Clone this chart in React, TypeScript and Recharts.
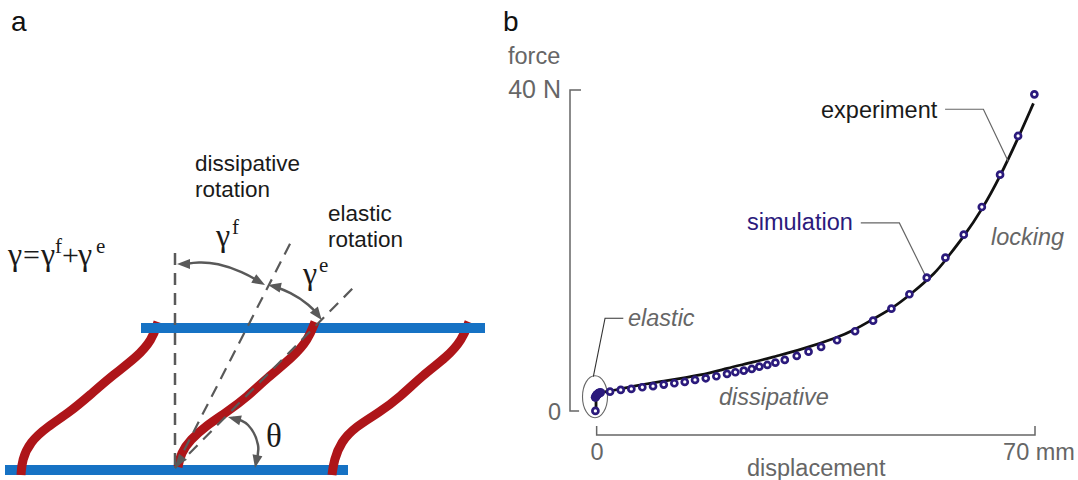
import React from "react";
import { ComposedChart, Line, XAxis, YAxis } from "recharts";

type P = [number, number];
const pts = (a: P[]) => a.map(([x, y]) => ({ x, y }));

// ---------- panel b: force (N) against displacement (mm) ----------
const elasticRise: P[] = [[0,0],[0,1.87],[0.64,2.31]];
const experiment: P[] = [[0.64,2.31],[2.23,2.43],[4.9,2.95],[10.21,3.65],[17.11,4.49],[20.85,5.32],[25.09,6.07],[28.82,6.85],[32.54,7.6],[38.39,9.1],[41.31,10.13],[44.18,11.46],[47.1,12.71],[49.97,14.39],[54.34,17.36],[55.71,18.82],[58.64,21.72],[61.52,25.05],[64.43,29.2],[67.3,33.98],[69.75,38.34]];
const simulationOpen: P[] = [[-0.1,0],[2.23,2.4],[3.94,2.62],[5.63,2.74],[7.38,2.95],[9.09,3.08],[10.8,3.28],[12.49,3.45],[14.15,3.61],[15.79,3.86],[17.5,4.07],[19.19,4.32],[20.89,4.61],[22.22,4.82],[23.56,5.02],[24.83,5.23],[26.04,5.52],[27.32,5.73],[28.6,6.02],[30.1,6.36],[32.01,6.85],[33.89,7.39],[35.89,7.98],[38.44,8.81],[41.31,9.93],[44.18,11.25],[47.1,12.75],[49.97,14.54],[52.74,16.61],[55.71,19.1],[58.64,21.97],[61.52,25.42],[64.43,29.45],[67.3,34.27],[69.9,39.46]];
const simulationElastic: P[] = [[-0.1,1.7],[0,1.85],[0.1,1.95],[0.2,2.05],[0.35,2.15],[0.5,2.22],[0.7,2.3]];
const leaderElastic: P[] = [[4.35,11.55],[1.44,11.55],[-0.43,4.27]];
const leaderExperiment: P[] = [[55.66,37.6],[61.77,37.6],[65.76,31.07]];
const leaderSimulation: P[] = [[42.22,23.43],[48.37,23.43],[52.47,16.95]];
const xBracket: P[] = [[0.1,-1.87],[0.1,-3],[70,-3],[70,-1.87]];
const yBracket: P[] = [[-2.39,40],[-4.15,40],[-4.15,0],[-2.7,0]];
const xTicks = [0, 70];
const yTicks = [0, 40];
const xTickLabels = ["0", "70 mm"];
const yTickLabels = ["0", "40 N"];

// ---------- panel a: schematic, in page-like drawing units ----------
const barTop: P[] = [[141,328],[485,328]];
const barBottom: P[] = [[5,470],[348,470]];
const fibreLeft: P[] = [[21,475],[22,460],[30,442],[47,427],[70,412],[90,395],[113,375],[137,357],[152,340],[158,322]];
const fibreMid: P[] = [[178,467],[181,453],[190,440],[207,425],[227,412],[247,397],[267,378],[293,357],[308,340],[315,322]];
const fibreRight: P[] = [[332,475],[334,460],[341,442],[355,427],[380,412],[400,397],[423,375],[447,357],[462,340],[469,322]];
const dashVertical: P[] = [[175,253],[175,468]];
const dashDissipative: P[] = [[175,468],[293,238]];
const dashElastic: P[] = [[175,468],[355,286]];
const arcF: P[] = [[185,264],[198,262],[217,263],[243,272],[260,282]];
const arcE: P[] = [[273,286],[290,292],[310,305],[319,316]];
const arcTheta: P[] = [[233,418],[248,425],[258,445],[256,462]];
// arrow tip x, tip y, pointing direction in degrees
const heads: { x: number; y: number; deg: number }[] = [
  { x: 177, y: 264, deg: 180 },
  { x: 265, y: 285, deg: 30 },
  { x: 268, y: 285, deg: 192 },
  { x: 321.7, y: 320, deg: 53 },
  { x: 228, y: 417, deg: 195 },
  { x: 255, y: 468, deg: 101 },
  { x: 175, y: 467, deg: 128 },
];

const SANS = "'Liberation Sans', Arial, sans-serif";
const SERIF = "'Liberation Serif', 'Times New Roman', serif";
const GREY = "#666666";
const DARK = "#595959";
const NAVY = "#2b1a7c";
const BLUE = "#1672c4";
const RED = "#ae1519";

const T = ({ x, y, c = "#1a1a1a", s = 22.5, i = false, f = SANS, a = "start", children }: any) => (
  <text x={x} y={y} fill={c} fontSize={s} fontFamily={f} fontStyle={i ? "italic" : "normal"} textAnchor={a}>{children}</text>
);

const XTick = ({ x, payload }: any) => {
  const k = xTicks.indexOf(payload.value);
  return <text x={x + (k === 1 ? 4 : 1)} y={460} fill={GREY} fontSize={23.5} fontFamily={SANS} textAnchor="middle">{xTickLabels[k]}</text>;
};
const YTick = ({ x, y, payload }: any) => {
  const k = yTicks.indexOf(payload.value);
  return <text x={x - 1} y={y + (k === 1 ? 8 : 9)} fill={GREY} fontSize={k === 1 ? 25 : 23.5} fontFamily={SANS} textAnchor="end">{yTickLabels[k]}</text>;
};

const thin = (key: string, d: P[], color: string, w: number, extra: any = {}) => (
  <Line key={key} data={pts(d)} dataKey="y" type="linear" stroke={color} strokeWidth={w} dot={false} activeDot={false} isAnimationActive={false} legendType="none" {...extra} />
);
const smooth = (key: string, d: P[], color: string, w: number) => thin(key, d, color, w, { type: "basis" });

const OpenDot = (p: any) => <circle key={p.index} cx={p.cx} cy={p.cy} r={3} fill="#fff" stroke={NAVY} strokeWidth={2.7} />;
const SolidDot = (p: any) => <circle key={p.index} cx={p.cx} cy={p.cy} r={4.6} fill={NAVY} stroke="none" />;
const ArrowDot = (p: any) => (
  <polygon key={p.index} points="0,0 -13,-5 -13,5" fill={DARK} transform={`translate(${p.cx} ${p.cy}) rotate(${p.payload.deg})`} />
);

function PanelA() {
  return (
    <ComposedChart width={490} height={480} margin={{ top: 0, right: 0, bottom: 0, left: 0 }} data={[]}>
      <XAxis type="number" dataKey="x" domain={[0, 490]} hide />
      <YAxis type="number" domain={[0, 480]} reversed hide />
      {thin("bb", barBottom, BLUE, 10)}
      {smooth("fl", fibreLeft, RED, 9)}
      {smooth("fr", fibreRight, RED, 9)}
      {thin("bt", barTop, BLUE, 10)}
      {smooth("fm", fibreMid, RED, 9)}
      {thin("dv", dashVertical, DARK, 2.5, { strokeDasharray: "12 8" })}
      {thin("dd", dashDissipative, DARK, 2.2, { strokeDasharray: "12 8" })}
      {thin("de", dashElastic, DARK, 2.2, { strokeDasharray: "12 8" })}
      {smooth("af", arcF, DARK, 2.5)}
      {smooth("ae", arcE, DARK, 2.5)}
      {thin("at", arcTheta, DARK, 2.5, { type: "natural" })}
      <Line data={heads} dataKey="y" stroke="none" dot={ArrowDot} activeDot={false} isAnimationActive={false} legendType="none" />
      <T x={11} y={31} s={28} c="#111">a</T>
      <T x={195} y={171}>dissipative</T>
      <T x={195} y={197}>rotation</T>
      <T x={328} y={221}>elastic</T>
      <T x={328} y={247}>rotation</T>
      <T x={8} y={265} s={32} f={SERIF}>γ</T>
      <T x={23} y={265} s={30} f={SERIF}>=</T>
      <T x={41} y={265} s={32} f={SERIF}>γ</T>
      <T x={55} y={253} s={21} f={SERIF}>f</T>
      <T x={62} y={265} s={30} f={SERIF}>+</T>
      <T x={78} y={265} s={32} f={SERIF}>γ</T>
      <T x={96} y={253} s={21} f={SERIF}>e</T>
      <T x={216} y={246} s={32} f={SERIF}>γ</T>
      <T x={232} y={234} s={21} f={SERIF}>f</T>
      <T x={303} y={284} s={32} f={SERIF}>γ</T>
      <T x={319} y={272} s={21} f={SERIF}>e</T>
      <T x={266} y={447} s={33} f={SERIF}>θ</T>
    </ComposedChart>
  );
}

function PanelB() {
  return (
    <ComposedChart width={588} height={480} margin={{ top: 90, right: 43, bottom: 0, left: 0 }} data={[]}>
      <XAxis type="number" dataKey="x" domain={[-4.15, 70]} ticks={xTicks} height={45} axisLine={false} tickLine={false} tick={<XTick />} interval={0} />
      <YAxis type="number" domain={[-3, 40]} ticks={yTicks} width={80} axisLine={false} tickLine={false} tick={<YTick />} interval={0} />
      {thin("xb", xBracket, GREY, 1.5)}
      {thin("yb", yBracket, GREY, 1.5)}
      {thin("rise", elasticRise, "#111111", 2.8)}
      {smooth("exp", experiment, "#111111", 2.8)}
      {thin("le", leaderElastic, "#333", 1.1)}
      {thin("lx", leaderExperiment, GREY, 1.2)}
      {thin("ls", leaderSimulation, GREY, 1.2)}
      {thin("se", simulationElastic, NAVY, 0, { stroke: "none", dot: SolidDot })}
      {thin("so", simulationOpen, NAVY, 0, { stroke: "none", dot: OpenDot })}
      <ellipse cx={105} cy={396.7} rx={12.5} ry={21} fill="none" stroke={GREY} strokeWidth={1.1} />
      <T x={13} y={31} s={28} c="#111">b</T>
      <T x={18} y={64} s={23.5} c={GREY}>force</T>
      <T x={257} y={476} s={23.5} c={GREY}>displacement</T>
      <T x={331} y={118} s={23.5}>experiment</T>
      <T x={257} y={230} s={23.5} c={NAVY}>simulation</T>
      <T x={138} y={326} s={23.5} c={GREY} i>elastic</T>
      <T x={229} y={405} s={23.5} c={GREY} i>dissipative</T>
      <T x={501} y={245} s={23.5} c={GREY} i>locking</T>
    </ComposedChart>
  );
}

export default function App() {
  return (
    <div style={{ position: "absolute", left: 0, top: 0, width: 1078, height: 480, display: "flex", background: "#fff" }}>
      <PanelA />
      <PanelB />
    </div>
  );
}
